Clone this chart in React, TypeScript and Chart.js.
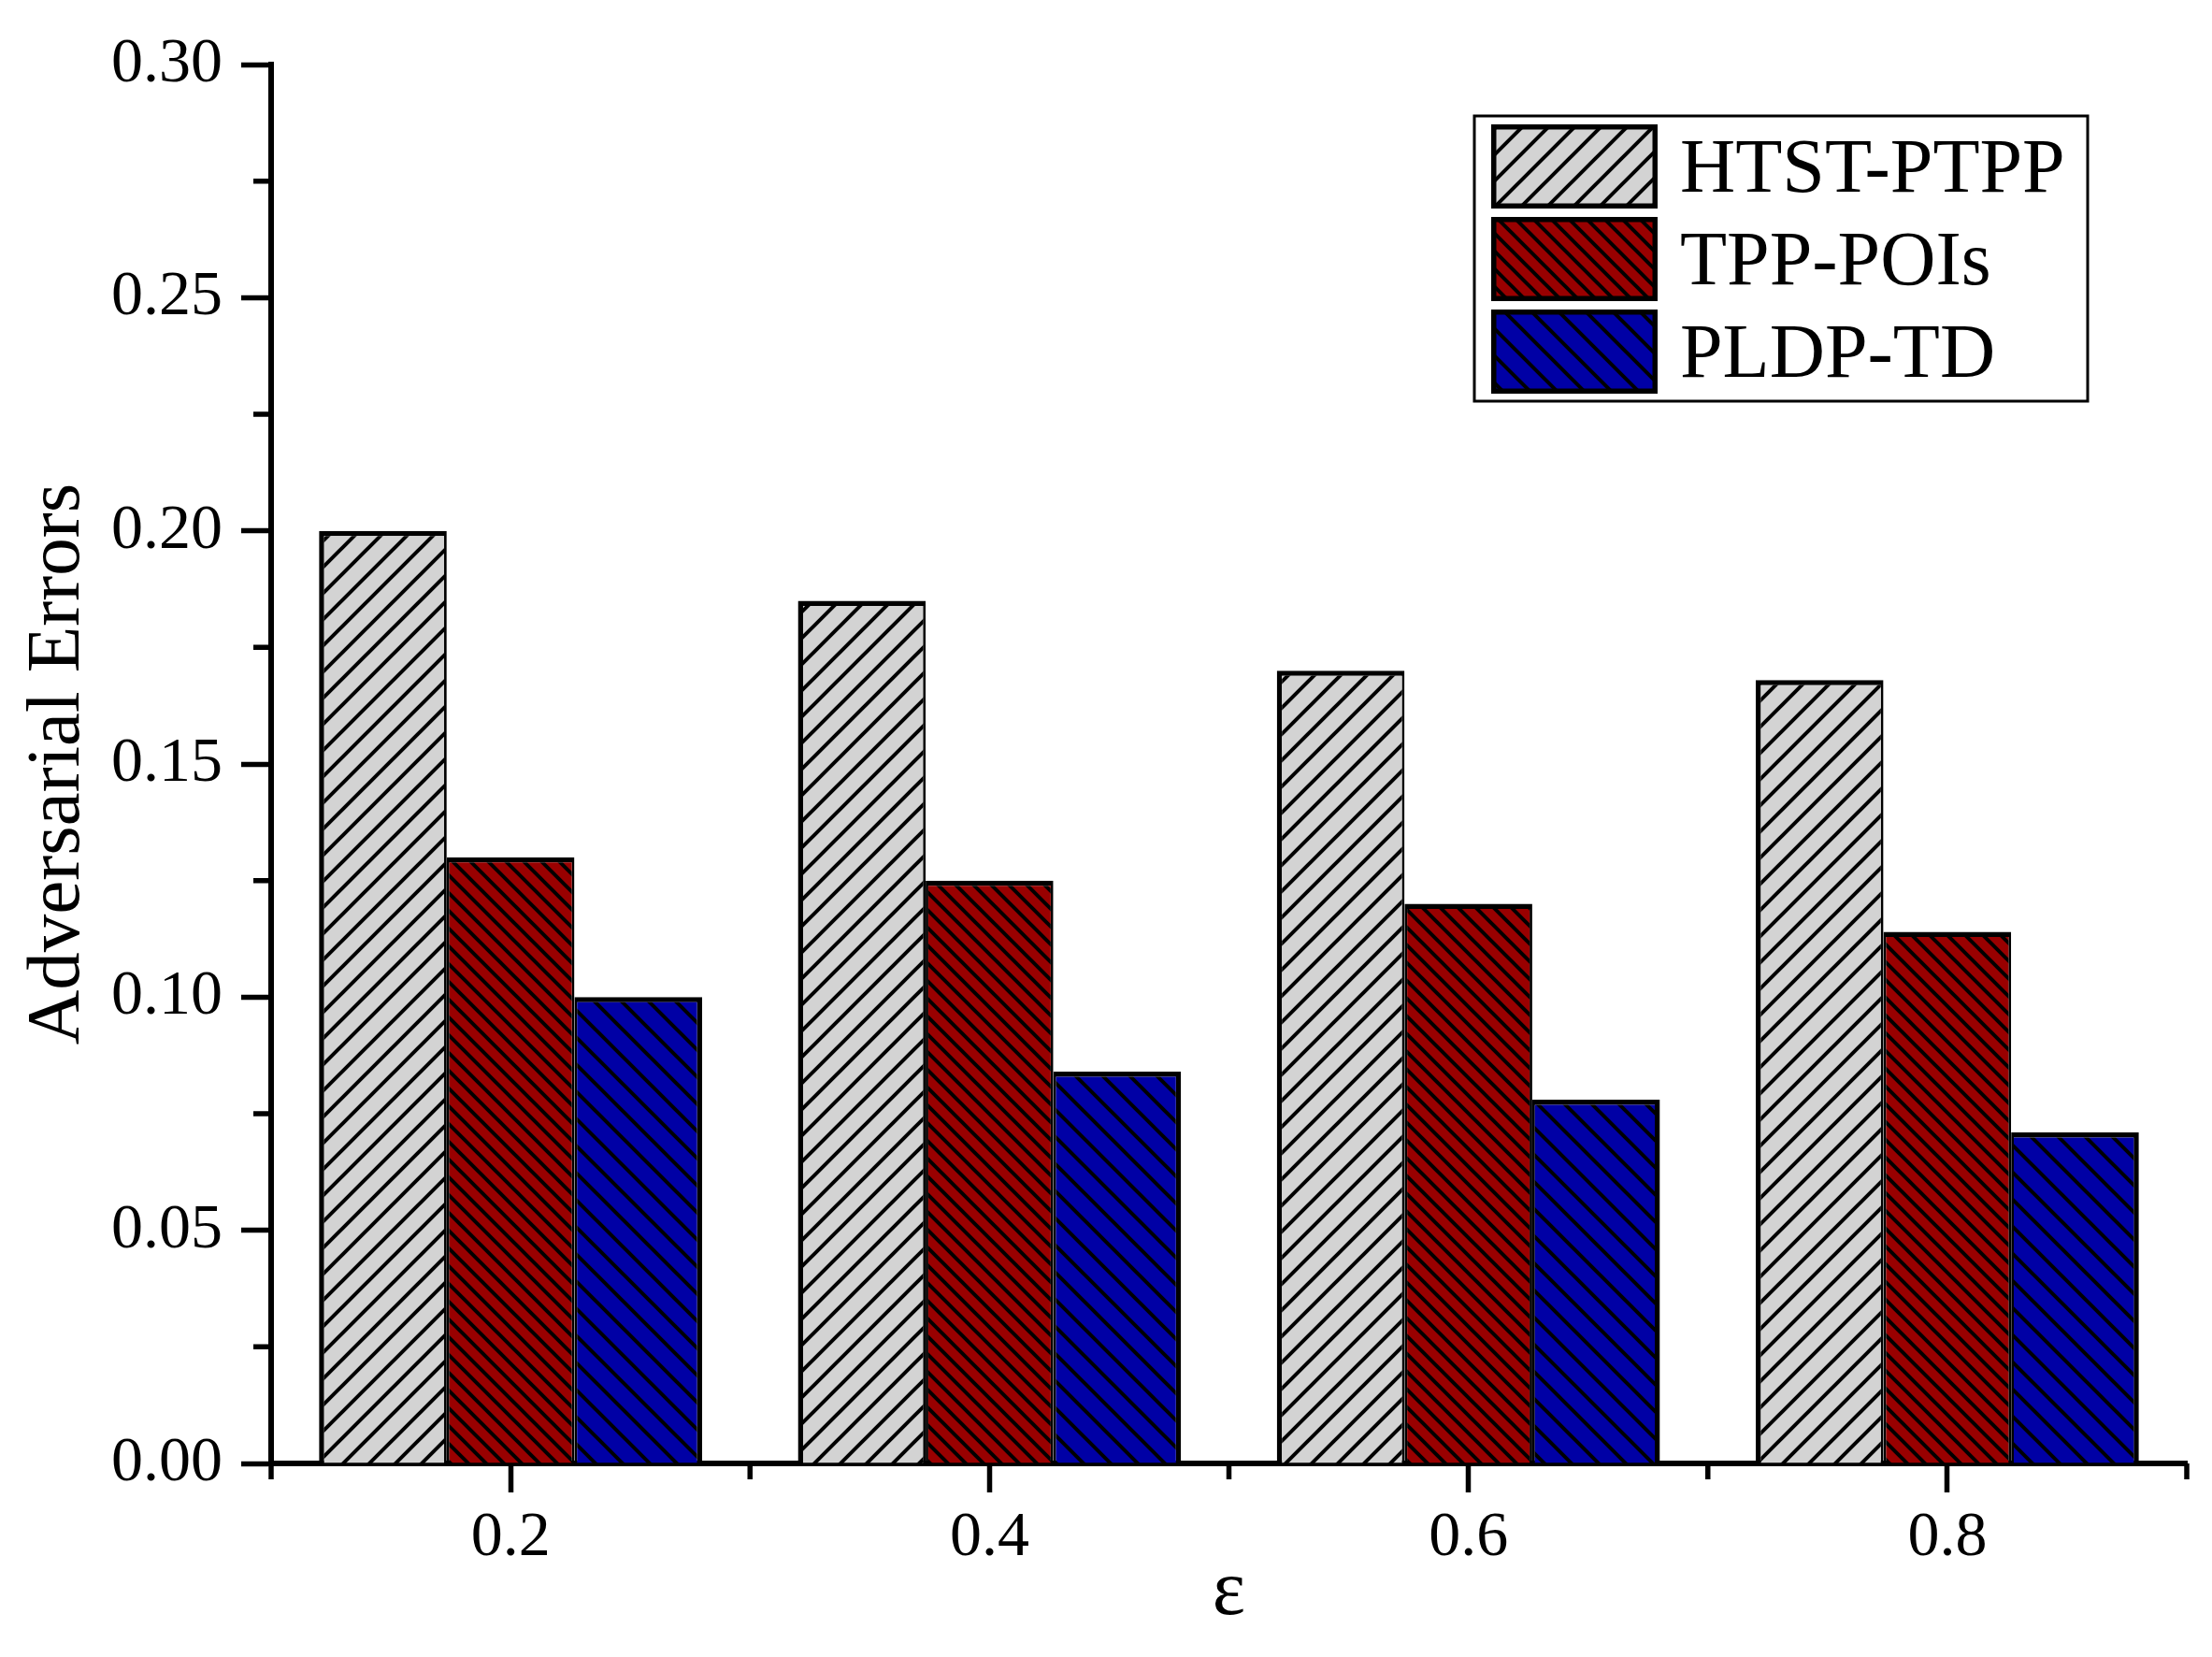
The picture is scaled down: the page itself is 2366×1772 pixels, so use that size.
import React, { useEffect, useRef } from 'react';
import { Chart, registerables } from 'chart.js';

Chart.register(...registerables);

const categories = ['0.2', '0.4', '0.6', '0.8'];
const seriesNames = ['HTST-PTPP', 'TPP-POIs', 'PLDP-TD'];
const htstPtpp = [0.2, 0.185, 0.17, 0.168];
const tppPois = [0.13, 0.125, 0.12, 0.114];
const pldpTd = [0.1, 0.084, 0.078, 0.071];
const yTicks = [0, 0.05, 0.1, 0.15, 0.2, 0.25, 0.3];
const xTitle = 'ε';
const yTitle = 'Adversarial Errors';

const FAMILY = "'Liberation Serif', 'Times New Roman', serif";

function hatch(bg: string, s: number, dir: '/' | '\\', lw: number): CanvasPattern | string {
  const c = document.createElement('canvas');
  c.width = s;
  c.height = s;
  const g = c.getContext('2d');
  if (!g) return bg;
  g.fillStyle = bg;
  g.fillRect(0, 0, s, s);
  g.strokeStyle = '#000';
  g.lineWidth = lw;
  g.beginPath();
  for (let k = -1; k <= 2; k++) {
    if (dir === '/') {
      g.moveTo(-s, k * s + s);
      g.lineTo(2 * s, k * s - 2 * s);
    } else {
      g.moveTo(-s, -s + k * s);
      g.lineTo(2 * s, 2 * s + k * s);
    }
  }
  g.stroke();
  const p = g.createPattern(c, 'repeat');
  return p || bg;
}

const minorTicks = {
  id: 'minorTicks',
  afterDraw(chart: any) {
    const ctx = chart.ctx;
    const y = chart.scales.y;
    const x = chart.scales.x;
    ctx.save();
    ctx.strokeStyle = '#000';
    ctx.lineWidth = 5.5;
    ctx.lineCap = 'butt';
    ctx.beginPath();
    for (let k = 0; k < yTicks.length - 1; k++) {
      const v = (yTicks[k] + yTicks[k + 1]) / 2;
      const p = y.getPixelForValue(v);
      ctx.moveTo(y.right, p);
      ctx.lineTo(y.right - 19, p);
    }
    for (let i = 0; i <= categories.length; i++) {
      const p = x.getPixelForValue(i - 0.5);
      ctx.moveTo(p, x.top);
      ctx.lineTo(p, x.top + 17);
    }
    ctx.stroke();
    ctx.restore();
  },
};

const legendBox = {
  id: 'legendBox',
  afterDraw(chart: any) {
    const ctx = chart.ctx;
    const bx = 1577, by = 124, bw = 656, bh = 305;
    ctx.save();
    ctx.fillStyle = '#fff';
    ctx.fillRect(bx, by, bw, bh);
    ctx.lineWidth = 3;
    ctx.strokeStyle = '#000';
    ctx.strokeRect(bx, by, bw, bh);
    chart.data.datasets.forEach((ds: any, i: number) => {
      const sx = 1595, sw = 178, sh = 90;
      const sy = 133 + i * 99;
      ctx.fillStyle = ds.backgroundColor;
      ctx.fillRect(sx, sy, sw, sh);
      ctx.lineWidth = 5.5;
      ctx.strokeStyle = '#000';
      ctx.strokeRect(sx + 2.75, sy + 2.75, sw - 5.5, sh - 5.5);
      ctx.fillStyle = '#000';
      ctx.font = `82px ${FAMILY}`;
      ctx.textBaseline = 'alphabetic';
      ctx.textAlign = 'left';
      ctx.fillText(ds.label, 1797, sy + sh / 2 + 27);
    });
    ctx.restore();
  },
};

export default function App() {
  const ref = useRef<HTMLCanvasElement | null>(null);
  useEffect(() => {
    document.body.style.margin = '0';
    const canvas = ref.current;
    if (!canvas) return;
    const grayP = hatch('#d3d3d3', 28, '/', 4);
    const redP = hatch('#990000', 19, '\\', 4);
    const blueP = hatch('#0000a5', 29, '\\', 4);
    const chart = new Chart(canvas, {
      type: 'bar',
      data: {
        labels: categories,
        datasets: [
          {
            label: seriesNames[0],
            data: htstPtpp,
            backgroundColor: grayP as any,
            borderColor: '#000',
            borderWidth: { top: 5.5, left: 5.5, right: 2.8, bottom: 0 },
            borderSkipped: 'start',
          },
          {
            label: seriesNames[1],
            data: tppPois,
            backgroundColor: redP as any,
            borderColor: '#000',
            borderWidth: { top: 5.5, left: 2.8, right: 2.8, bottom: 0 },
            borderSkipped: 'start',
          },
          {
            label: seriesNames[2],
            data: pldpTd,
            backgroundColor: blueP as any,
            borderColor: '#000',
            borderWidth: { top: 5.5, left: 2.8, right: 5.5, bottom: 0 },
            borderSkipped: 'start',
          },
        ],
      },
      options: {
        animation: false,
        responsive: false,
        devicePixelRatio: 1,
        layout: { padding: { top: 69, right: 27, bottom: 0, left: 0 } },
        datasets: { bar: { categoryPercentage: 0.8, barPercentage: 1.0 } },
        plugins: { legend: { display: false }, tooltip: { enabled: false } },
        scales: {
          x: {
            type: 'category',
            offset: true,
            grid: {
              offset: false,
              drawOnChartArea: false,
              drawTicks: true,
              tickLength: 31,
              tickWidth: 5.5,
              tickColor: '#000',
            },
            border: { display: true, width: 6, color: '#000' },
            ticks: { color: '#000', font: { size: 68, family: FAMILY }, padding: 8, maxRotation: 0 },
            title: {
              display: true,
              text: xTitle,
              color: '#000',
              font: { size: 84, family: FAMILY, lineHeight: 1 },
              padding: { top: 0, bottom: 26 },
            },
            afterFit(s: any) {
              s.height = 1772 - 1565;
            },
          },
          y: {
            type: 'linear',
            min: 0,
            max: 0.3,
            afterBuildTicks(s: any) {
              s.ticks = yTicks.map((v) => ({ value: v }));
            },
            grid: {
              drawOnChartArea: false,
              drawTicks: true,
              tickLength: 32,
              tickWidth: 5.5,
              tickColor: '#000',
            },
            border: { display: true, width: 6, color: '#000' },
            ticks: {
              color: '#000',
              font: { size: 68, family: FAMILY },
              padding: 20,
              callback: (v: any) => Number(v).toFixed(2),
            },
            title: {
              display: true,
              text: yTitle,
              color: '#000',
              font: { size: 81, family: FAMILY, lineHeight: 1 },
              padding: { top: 22, bottom: 0 },
            },
            afterFit(s: any) {
              s.width = 290;
            },
          },
        },
      },
      plugins: [minorTicks, legendBox],
    } as any);
    return () => chart.destroy();
  }, []);
  return <canvas ref={ref} width={2366} height={1772} style={{ display: 'block' }} />;
}
